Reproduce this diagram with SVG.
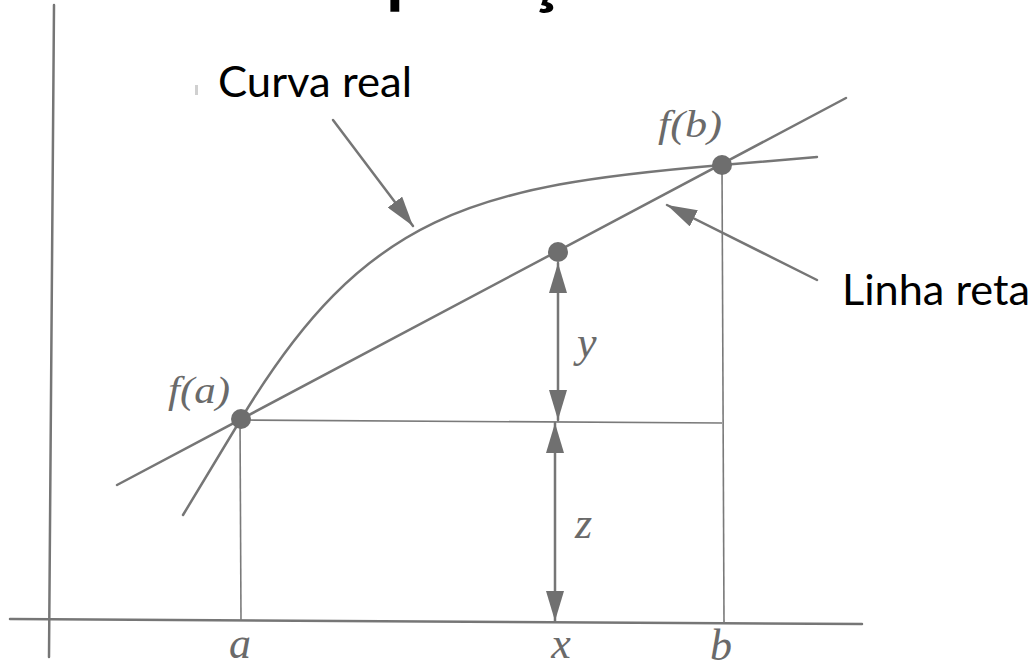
<svg xmlns="http://www.w3.org/2000/svg" width="1035" height="664" viewBox="0 0 1035 664">
<defs>
<style>
.ln{stroke:#767676;stroke-width:2.5;fill:none;stroke-linecap:round}
.thin{stroke:#7a7a7a;stroke-width:1.6;fill:none}
.dot{fill:#6e6e6e}
.math{font-family:"Liberation Serif",serif;font-style:italic;fill:#6a6a6a}
.lbl{font-family:Lato,"Liberation Sans",sans-serif;fill:#000}
</style>
<marker id="ah" markerUnits="userSpaceOnUse" markerWidth="30" markerHeight="18" refX="30" refY="9" orient="auto-start-reverse">
<path d="M0,0 L30,9 L0,18 Z" fill="#707070"/>
</marker>
</defs>
<rect width="1035" height="664" fill="#fff"/>
<text id="title" font-family="Lato,'Liberation Sans',sans-serif" font-weight="bold" font-size="72" fill="#000" y="-1" x="220 246 286 310 350 386 427 469 488 526 560 598">Interpolação</text>
<g id="axes">
<line class="ln" x1="54" y1="5" x2="49" y2="657"/>
<line class="ln" x1="10" y1="619" x2="862" y2="624"/>
</g>
<g id="guides">
<line class="thin" x1="240" y1="419" x2="241" y2="621"/>
<line class="thin" x1="241" y1="420" x2="722" y2="423"/>
<line class="thin" x1="722" y1="165" x2="724" y2="623"/>
</g>
<g id="curve">
<path class="ln" d="M183,515 L241,419 C365,213 473,186 722,165 L817,157"/>
</g>
<g id="straight-line">
<line class="ln" x1="117" y1="485" x2="846" y2="98"/>
</g>
<g id="connectors">
<line class="ln" x1="558" y1="263" x2="558" y2="420" marker-start="url(#ah)" marker-end="url(#ah)"/>
<line class="ln" x1="555" y1="423" x2="555" y2="621" marker-start="url(#ah)" marker-end="url(#ah)"/>
<line class="ln" x1="333" y1="120" x2="413" y2="226" marker-end="url(#ah)"/>
<line class="ln" x1="817" y1="280" x2="667" y2="205" marker-end="url(#ah)"/>
</g>
<g id="point-fa">
<circle class="dot" cx="241" cy="419" r="10"/>
<text class="math" x="168" y="403" font-size="38" textLength="62" lengthAdjust="spacingAndGlyphs">f(a)</text>
</g>
<g id="point-mid">
<circle class="dot" cx="558" cy="252" r="10"/>
</g>
<g id="point-fb">
<circle class="dot" cx="722" cy="165" r="10"/>
<text class="math" x="658" y="137" font-size="38" textLength="64" lengthAdjust="spacingAndGlyphs">f(b)</text>
</g>
<g id="label-y"><text class="math" x="577" y="357" font-size="44">y</text></g>
<g id="label-z"><text class="math" x="575" y="538" font-size="44">z</text></g>
<g id="label-a"><text class="math" x="240" y="658" font-size="44" text-anchor="middle">a</text></g>
<g id="label-x"><text class="math" x="561" y="658" font-size="44" text-anchor="middle">x</text></g>
<g id="label-b"><text class="math" x="721" y="660" font-size="44" text-anchor="middle">b</text></g>
<rect x="195" y="85" width="3" height="10" fill="#d0d0d0"/>
<g id="label-curva"><text class="lbl" x="218" y="97" font-size="42" textLength="194" lengthAdjust="spacingAndGlyphs">Curva real</text></g>
<g id="label-linha"><text class="lbl" x="842" y="305" font-size="42" textLength="188" lengthAdjust="spacingAndGlyphs">Linha reta</text></g>
</svg>
